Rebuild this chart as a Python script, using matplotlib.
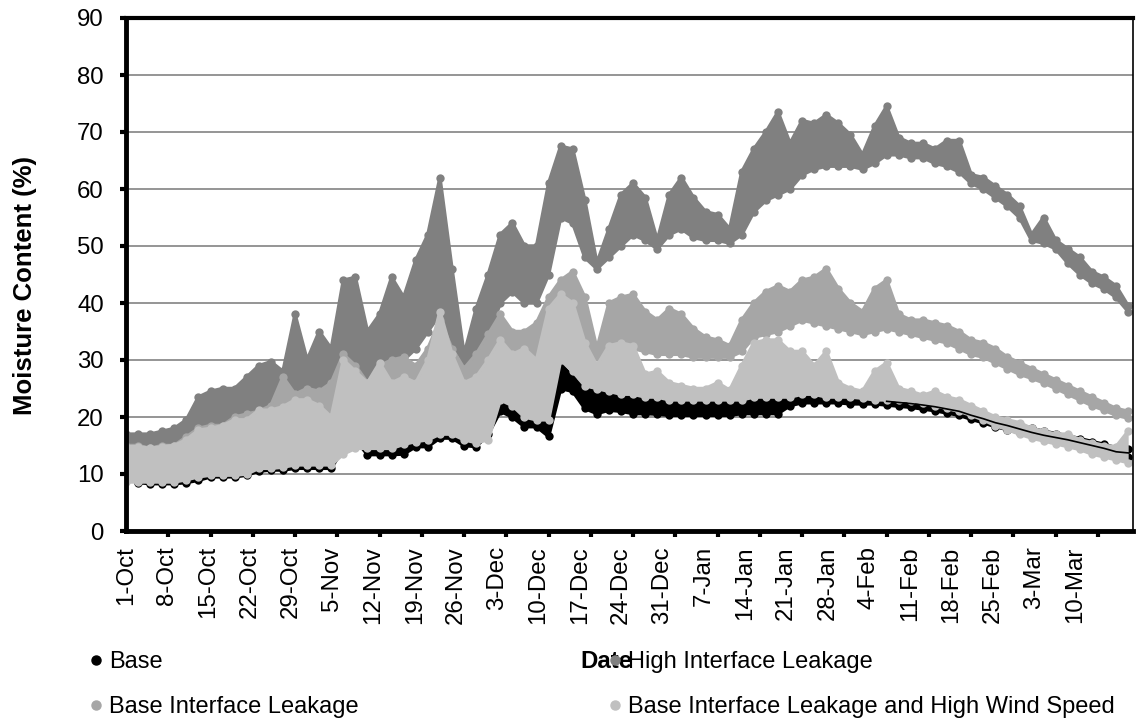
import matplotlib.pyplot as plt
import numpy as np
from matplotlib.lines import Line2D

plt.rcParams['font.family'] = ['Liberation Sans', 'DejaVu Sans']

# days since 1-Oct, one reading every second day (low / high of the hourly cloud)
days = np.arange(0, 167, 2)

base_lo = [9.5, 8.5, 8.3, 8.3, 8.3, 8.5, 8.9, 9.5, 9.5, 9.5,
           9.8, 10.5, 10.7, 10.7, 11, 11, 11, 11, 14.5, 16,
           13.4, 13.4, 13.4, 13.5, 14.8, 14.8, 16.3, 16.3, 15, 14.8,
           17, 21, 20, 18.3, 18.3, 16.6, 25, 24.5, 21.5, 20.6,
           21.2, 21, 20.6, 20.6, 20.5, 20.3, 20.3, 20.3, 20.3, 20.3,
           20.3, 20.6, 20.6, 20.6, 20.6, 22, 22.5, 22.5, 22.5, 22.5,
           22.3, 22.3, 22.3, 22.1, 21.9, 21.7, 21.4, 21.1, 20.7, 20.3,
           19.6, 19, 18.3, 17.8, 17.2, 16.6, 16.1, 15.7, 15.3, 14.8,
           14.3, 13.8, 13.2, 13]
base_hi = [12, 11.5, 11, 11, 11, 11.2, 11.5, 12, 12, 12,
           13.6, 13, 13, 15.9, 13.5, 13.5, 13.5, 13.5, 20.6, 18.5,
           16, 16, 16, 16.5, 17, 17.5, 18.5, 18.5, 17.5, 17,
           19, 24.5, 24, 22, 21, 20, 29.4, 27, 25, 24.5,
           25, 26.5, 24, 23.5, 23.5, 23.2, 23.2, 23.2, 23.2, 23.2,
           23.2, 23.5, 23.5, 23.5, 23.5, 24.7, 24.7, 23.5, 26.8, 24,
           23.8, 23.6, 23.6, 23.4, 23.2, 23, 22.8, 22.5, 22.1, 21.7,
           21, 20.4, 19.7, 19.2, 18.6, 18, 17.5, 17.1, 16.7, 16.2,
           15.7, 15.2, 14.6, 14.4]

hil_lo = [13.5, 13, 13, 13, 13.5, 14.5, 17, 17.5, 17.5, 18,
          19, 19.5, 20.5, 21, 22, 22, 23, 24, 24, 26,
          27, 28, 29, 30, 32, 35, 38, 33, 29.5, 30,
          34, 40, 42, 40, 40, 45, 55, 54, 48, 46,
          48, 50, 52, 51, 49.5, 52, 53, 51.5, 51, 51,
          50.5, 52, 56, 58, 59, 60, 62.5, 63.5, 64, 64,
          64, 63.5, 64.5, 66, 66, 65.5, 65.5, 64.5, 64, 63,
          61, 60, 58.5, 57, 55, 51, 50.5, 49.5, 47, 45,
          43.5, 42.5, 41, 38.5]
hil_hi = [17, 17, 17, 17.5, 18, 19.5, 23.5, 24.5, 25, 25,
          27, 29, 29.7, 28, 38, 30, 35, 32, 44, 44.5,
          35, 38, 44.5, 41, 47.5, 52, 62, 46, 31, 39,
          45, 52, 54, 50, 50, 61, 67.5, 67, 58, 47,
          53, 59, 61, 58.5, 51, 59, 62, 58.5, 56, 55.5,
          53, 63, 67, 70, 73.5, 68, 72, 71.5, 73, 71.5,
          69.5, 66, 71, 74.5, 69, 68, 68, 67, 68.5, 68.5,
          62.5, 62, 60.5, 59, 57, 52, 55, 51, 49.5, 48,
          45.5, 44.5, 43, 39.5]

bil_lo = [10, 10, 10, 10, 10, 10.5, 11, 11.5, 12, 12,
          12.5, 13, 13.5, 14, 14, 14, 14.5, 15, 16, 17,
          17, 17, 17.5, 18, 19, 20, 21, 20.5, 20, 19,
          22, 25, 25, 25, 24, 28, 33, 33, 31, 30.5,
          31, 32, 32, 31.5, 31, 31, 31, 30.5, 30.5, 30.5,
          30.5, 31.5, 34, 34.5, 35, 36, 37, 36.5, 36, 35.5,
          35, 34.5, 35, 35.5, 35, 34.5, 34, 33.5, 33, 32,
          31, 30.5, 29.5, 28.5, 27.5, 26.8, 26, 25, 24, 23,
          22, 21.2, 20.3, 19.8]
bil_hi = [15, 15, 14.5, 15, 15, 16.5, 18, 18.5, 18.5, 20,
          20.5, 21, 22, 27, 24, 25, 24.5, 26, 31, 29,
          26, 29, 30, 30.5, 29, 32, 37, 32, 28.5, 31,
          34.5, 38, 35, 35, 36.5, 41, 44, 45.5, 41, 32,
          40, 41, 41.5, 38.5, 37, 39, 38, 35.5, 34, 33.5,
          32.5, 37, 40, 42, 43, 42, 44, 44.5, 46, 42.5,
          40, 38.5, 42.5, 44, 38, 37, 37, 36.5, 36, 35,
          33.5, 33, 32, 30.5, 29.5, 28.5, 27.5, 26.5, 25.5, 24.5,
          23.5, 22.5, 21.5, 21]

hws_lo = [8.6, 8.6, 8.6, 8.6, 8.6, 9, 9.5, 9.8, 9.8, 9.8,
          10, 11, 11, 11.2, 11.6, 11.6, 11.6, 11.6, 13.5, 14.5,
          14.5, 14.5, 14.5, 15.2, 15.7, 16, 17, 17, 16, 15.5,
          16, 23, 22, 20, 19.5, 19.5, 30, 28, 25.5, 25,
          24.5, 24, 24, 23.5, 23.5, 23, 23, 23, 23, 23,
          23, 23, 23.5, 23.5, 23.5, 23.5, 24, 24, 23.5, 23.5,
          23.5, 23.3, 23, 23, 23, 22.8, 22.5, 22, 21.5, 21,
          20.3, 19.5, 18.5, 17.8, 17, 16.3, 15.8, 15.3, 14.8, 14.3,
          13.5, 13, 12.5, 12]
hws_hi = [14.8, 14.8, 14.5, 14.8, 15, 16, 17.7, 18, 18.5, 19.5,
          19.5, 21.2, 21.2, 21.8, 23, 23, 22, 20, 30, 28,
          26, 29.5, 26, 27, 26, 30, 38.5, 31, 26, 27,
          30, 33.5, 31, 32, 30, 39, 41.5, 40, 33, 29,
          32.5, 33, 32.5, 27.5, 28, 26, 25.5, 25, 25, 26,
          24.7, 29, 33, 33.5, 33.5, 31.5, 31.5, 29, 31.5, 26,
          25, 24.5, 28, 29.5, 25, 24.5, 23.8, 24.5, 23.5, 23,
          22, 21, 20, 19.5, 19, 18, 17.5, 17, 17, 16,
          15.5, 15, 14.8, 17.5]

week_labels = ['1-Oct', '8-Oct', '15-Oct', '22-Oct', '29-Oct', '5-Nov', '12-Nov',
               '19-Nov', '26-Nov', '3-Dec', '10-Dec', '17-Dec', '24-Dec', '31-Dec',
               '7-Jan', '14-Jan', '21-Jan', '28-Jan', '4-Feb', '11-Feb', '18-Feb',
               '25-Feb', '3-Mar', '10-Mar']

series = [
    ('Base', base_lo, base_hi, 'black'),
    ('High Interface Leakage', hil_lo, hil_hi, '#808080'),
    ('Base Interface Leakage', bil_lo, bil_hi, '#a6a6a6'),
    ('Base Interface Leakage and High Wind Speed', hws_lo, hws_hi, '#c0c0c0'),
]

fig = plt.figure(figsize=(11.41, 7.22), dpi=100)
ax = fig.add_axes([126 / 1141, 1 - 531 / 722, (1133 - 126) / 1141, (531 - 18) / 722])

for i, (name, lo, hi, c) in enumerate(series):
    z = 2 + i
    ax.fill_between(days, lo, hi, color=c, lw=0, zorder=z)
    for edge in (lo, hi):
        ax.plot(days, edge, color=c, lw=2.5, solid_joinstyle='round',
                solid_capstyle='round', zorder=z)
        ax.scatter(days, edge, s=36, color=c, lw=0, zorder=z)

# the base curve shows through as a thin line late in the season
base_mid = (np.array(base_lo) + np.array(base_hi)) / 2
late = days >= 126
ax.plot(days[late], base_mid[late], color='black', lw=1.2, zorder=7)

ax.set_xlim(0, 166.8)
ax.set_ylim(0, 90)
ax.set_yticks(range(0, 91, 10))
ax.yaxis.grid(True, color='#8c8c8c', lw=1.3)
ax.set_axisbelow(True)

# tick marks are weekly; the category labels drift slightly (as in the original)
ax.set_xticks(np.arange(24) * 7, minor=True)
ax.set_xticks(np.arange(24) * 7 * 41.3 / 42.3)
ax.set_xticklabels(week_labels, rotation=90, va='top', ha='center')
ax.tick_params(axis='x', which='major', length=0, pad=11, labelsize=17.3)
ax.tick_params(axis='x', which='minor', length=4, width=3, direction='out')
ax.tick_params(axis='y', length=4, width=3, pad=12, labelsize=17.3)

for side, w in [('left', 3.5), ('bottom', 3.5), ('top', 3.0), ('right', 1.2)]:
    ax.spines[side].set_linewidth(w)
    ax.spines[side].set_zorder(10)

ax.set_ylabel('Moisture Content (%)', fontsize=18.5, fontweight='bold', va='center')
ax.yaxis.set_label_coords(-0.1003, 0.4795)
ax.set_xlabel('Date', fontsize=17.3, fontweight='bold', ha='center', va='center')
ax.xaxis.set_label_coords((606 - 126) / 1007, (531 - 662) / 513)

order = [0, 2, 1, 3]
handles = [Line2D([], [], ls='none', marker='o', ms=6.5, color=series[k][3]) for k in order]
labels = [series[k][0] for k in order]
fig.legend(handles, labels, ncol=2, loc='upper left',
           bbox_to_anchor=(90 / 1141, 1 - 651 / 722), frameon=False, fontsize=17,
           handlelength=0.5, handletextpad=0.3, columnspacing=10.6,
           labelspacing=0.98, borderpad=0, borderaxespad=0)

fig.savefig('out.png', dpi=100)
